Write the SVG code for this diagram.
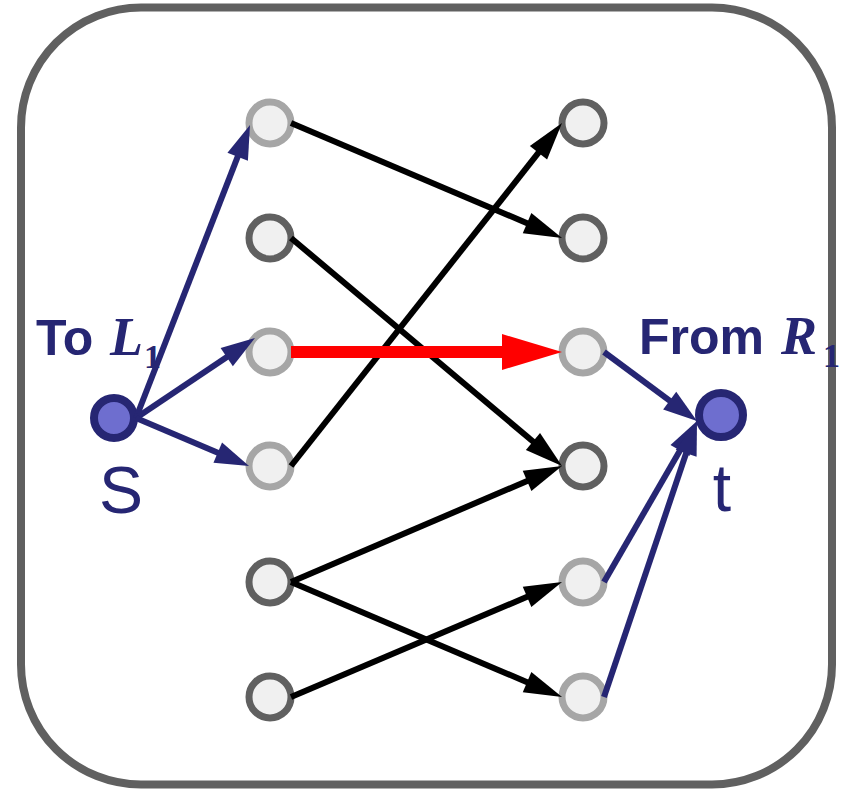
<svg xmlns="http://www.w3.org/2000/svg" width="850" height="789" viewBox="0 0 850 789">
<defs>
<style>
.n{fill:#f0f0f0;stroke-width:7}
.lt{stroke:#a6a6a6}
.dk{stroke:#606060}
.st{fill:#6e6ecf;stroke:#262673;stroke-width:8}
.e{fill:none;stroke:#000;stroke-width:6}
.b{fill:none;stroke:#262673;stroke-width:6}
.r{fill:none;stroke:#ff0000;stroke-width:12}
.lbl{font-family:"Liberation Sans",Arial,sans-serif;font-weight:bold;font-size:50px;fill:#262673}
.m{font-family:"Liberation Serif","Times New Roman",serif;font-weight:bold;fill:#262673}
.mi{font-style:italic;font-size:54px}
.ms{font-style:normal;font-size:34px}
.big{font-family:"Liberation Sans",Arial,sans-serif;font-size:66px;fill:#262673;text-anchor:middle}
</style>
<marker id="ak" markerUnits="userSpaceOnUse" markerWidth="40" markerHeight="24" refX="2" refY="11" orient="auto" overflow="visible"><path d="M0,0 L38,11 L0,22 z" fill="#000"/></marker>
<marker id="ab" markerUnits="userSpaceOnUse" markerWidth="36" markerHeight="24" refX="2" refY="11" orient="auto" overflow="visible"><path d="M0,0 L34,11 L0,22 z" fill="#262673"/></marker>
<marker id="ar" markerUnits="userSpaceOnUse" markerWidth="62" markerHeight="38" refX="2" refY="18" orient="auto" overflow="visible"><path d="M0,0 L60,18 L0,36 z" fill="#ff0000"/></marker>
</defs>
<rect x="21" y="7.5" width="811" height="777" rx="120" ry="120" fill="#fff" stroke="#606060" stroke-width="8"/>
<g id="nodes">
<g id="L1"><circle class="n lt" cx="270" cy="123" r="21"/></g>
<g id="L2"><circle class="n dk" cx="270" cy="238" r="21"/></g>
<g id="L3"><circle class="n lt" cx="270" cy="352" r="21"/></g>
<g id="L4"><circle class="n lt" cx="270" cy="466" r="21"/></g>
<g id="L5"><circle class="n dk" cx="270" cy="582" r="21"/></g>
<g id="L6"><circle class="n dk" cx="270" cy="697" r="21"/></g>
<g id="R1"><circle class="n dk" cx="583" cy="123" r="21"/></g>
<g id="R2"><circle class="n dk" cx="583" cy="238" r="21"/></g>
<g id="R3"><circle class="n lt" cx="583" cy="352" r="21"/></g>
<g id="R4"><circle class="n dk" cx="583" cy="466" r="21"/></g>
<g id="R5"><circle class="n lt" cx="583" cy="582" r="21"/></g>
<g id="R6"><circle class="n lt" cx="583" cy="697" r="21"/></g>
<g id="S"><circle class="st" cx="114" cy="418" r="20"/><text class="big" x="121" y="513">S</text></g>
<g id="T"><circle class="st" cx="721" cy="415" r="22"/><text class="big" x="722" y="511">t</text></g>
</g>
<g id="connectors">
<path class="e" d="M291,123 L528.9,223.9" marker-end="url(#ak)"/>
<path class="e" d="M291,238 L534.5,442.8" marker-end="url(#ak)"/>
<path class="e" d="M291,466 L539.7,151.2" marker-end="url(#ak)"/>
<path class="e" d="M291,582 L528.9,480.2" marker-end="url(#ak)"/>
<path class="e" d="M291,582 L528.9,682.9" marker-end="url(#ak)"/>
<path class="e" d="M291,697 L528.9,596.1" marker-end="url(#ak)"/>
<path class="r" d="M291,352 L504,352" marker-end="url(#ar)"/>
<path class="b" d="M136,418 L238.4,154.8" marker-end="url(#ab)"/>
<path class="b" d="M136,418 L228.4,355.9" marker-end="url(#ab)"/>
<path class="b" d="M136,418 L219.6,453.5" marker-end="url(#ab)"/>
<path class="b" d="M604,352 L671.3,401.9" marker-end="url(#ab)"/>
<path class="b" d="M604,582 L681,448.7" marker-end="url(#ab)"/>
<path class="b" d="M604,697 L686.8,451.3" marker-end="url(#ab)"/>
</g>
<g id="labels">
<text class="lbl" x="36" y="355">To</text>
<text class="m mi" x="110" y="355">L</text>
<text class="m ms" x="144" y="368">1</text>
<text class="lbl" x="639" y="354">From</text>
<text class="m mi" x="781" y="354">R</text>
<text class="m ms" x="823" y="367">1</text>
</g>
</svg>
